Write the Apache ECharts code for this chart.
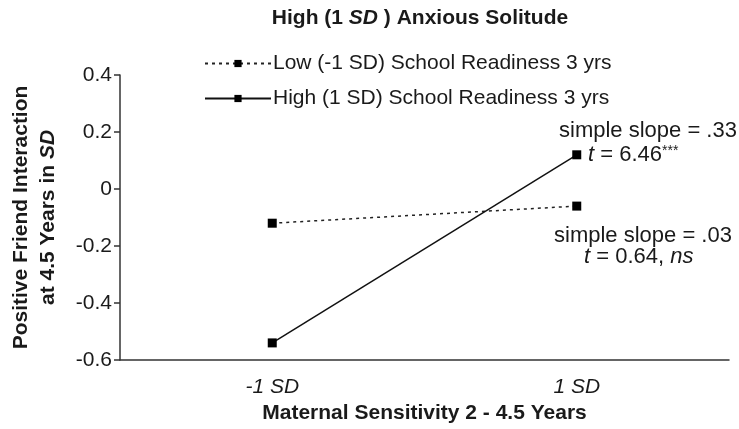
<!DOCTYPE html>
<html>
<head>
<meta charset="utf-8">
<script src="https://cdn.jsdelivr.net/npm/echarts@6/dist/echarts.min.js"></script>
<style>
  html, body { margin: 0; padding: 0; background: #fff; }
  #chart { width: 739px; height: 429px; }
</style>
</head>
<body>
<div id="chart"></div>
<script>
// 数据
const categories = ["-1 SD", "1 SD"]
const lowReadiness = [-0.12, -0.06]
const highReadiness = [-0.54, 0.12]
const seriesNames = ["Low (-1 SD) School Readiness 3 yrs", "High (1 SD) School Readiness 3 yrs"]

const font = "Liberation Sans, Arial, sans-serif"
const ink = "#1a1a1a"

const myChart = echarts.init(document.getElementById("chart"))

const option = {
  animation: false,
  backgroundColor: "#fff",
  textStyle: { fontFamily: font, color: ink },
  title: {
    left: 415,
    top: 3,
    textAlign: "center",
    text: "{b|High (1 }{bi|SD}{b| ) Anxious Solitude}",
    textStyle: {
      rich: {
        b: { fontFamily: font, fontSize: 21, fontWeight: "bold", color: ink },
        bi: { fontFamily: font, fontSize: 21, fontWeight: "bold", fontStyle: "italic", color: ink }
      }
    }
  },
  legend: {
    orient: "vertical",
    left: 199,
    top: 48,
    itemWidth: 66,
    itemHeight: 9,
    itemGap: 14,
    textStyle: { fontFamily: font, fontSize: 21, color: ink, padding: [0, 0, 0, -3] },
    data: seriesNames
  },
  grid: { left: 118, right: 10, top: 75, bottom: 69 },
  xAxis: {
    type: "category",
    data: categories,
    boundaryGap: true,
    name: "Maternal Sensitivity 2 - 4.5 Years",
    nameLocation: "middle",
    nameGap: 42,
    nameTextStyle: { fontFamily: font, fontSize: 21, fontWeight: "bold", color: ink },
    axisLine: { onZero: false, lineStyle: { color: "#333", width: 1.5 } },
    axisTick: { length: 7, lineStyle: { color: "#333", width: 1.5 } },
    axisLabel: { fontFamily: font, fontSize: 21, fontStyle: "italic", color: ink, margin: 17 }
  },
  yAxis: {
    type: "value",
    min: -0.6,
    max: 0.4,
    interval: 0.2,
    name: "Positive Friend Interaction\n{n|at 4.5 Years in }{i|SD}",
    nameLocation: "middle",
    nameRotate: 90,
    nameGap: 58,
    nameTextStyle: {
      fontFamily: font, fontSize: 21, fontWeight: "bold", color: ink, lineHeight: 27,
      rich: {
        n: { fontFamily: font, fontSize: 21, fontWeight: "bold", color: ink, lineHeight: 27 },
        i: { fontFamily: font, fontSize: 21, fontWeight: "bold", fontStyle: "italic", color: ink, lineHeight: 27 }
      }
    },
    splitLine: { show: false },
    axisLine: { show: true, lineStyle: { color: "#333", width: 1.5 } },
    axisTick: { show: true, length: 6, lineStyle: { color: "#333", width: 1.5 } },
    axisLabel: {
      fontFamily: font, fontSize: 21, color: ink, margin: 8,
      formatter: (v) => String(Math.round(v * 10) / 10)
    }
  },
  series: [
    {
      name: seriesNames[0],
      type: "line",
      data: lowReadiness,
      symbol: "rect",
      symbolSize: 9,
      itemStyle: { color: "#000" },
      lineStyle: { color: "#222", width: 1.5, type: [3, 4] }
    },
    {
      name: seriesNames[1],
      type: "line",
      data: highReadiness,
      symbol: "rect",
      symbolSize: 9,
      itemStyle: { color: "#000" },
      lineStyle: { color: "#111", width: 1.5 }
    }
  ],
  graphic: [
    {
      type: "text",
      left: 559,
      top: 120,
      style: { text: "simple slope = .33", font: "22px " + font, fill: ink }
    },
    {
      type: "text",
      left: 588,
      top: 144,
      style: {
        text: "{i|t} = 6.46{s|***}",
        font: "22px " + font,
        fill: ink,
        rich: {
          i: { fontFamily: font, fontSize: 22, fontStyle: "italic", fill: ink },
          s: { fontFamily: font, fontSize: 14, fill: ink, verticalAlign: "top", padding: [0, 0, 8, 0] }
        }
      }
    },
    {
      type: "text",
      left: 554,
      top: 225,
      style: { text: "simple slope = .03", font: "22px " + font, fill: ink }
    },
    {
      type: "text",
      left: 584,
      top: 246,
      style: {
        text: "{i|t} = 0.64, {i|ns}",
        font: "22px " + font,
        fill: ink,
        rich: {
          i: { fontFamily: font, fontSize: 22, fontStyle: "italic", fill: ink }
        }
      }
    }
  ]
}

myChart.setOption(option)
</script>
</body>
</html>
